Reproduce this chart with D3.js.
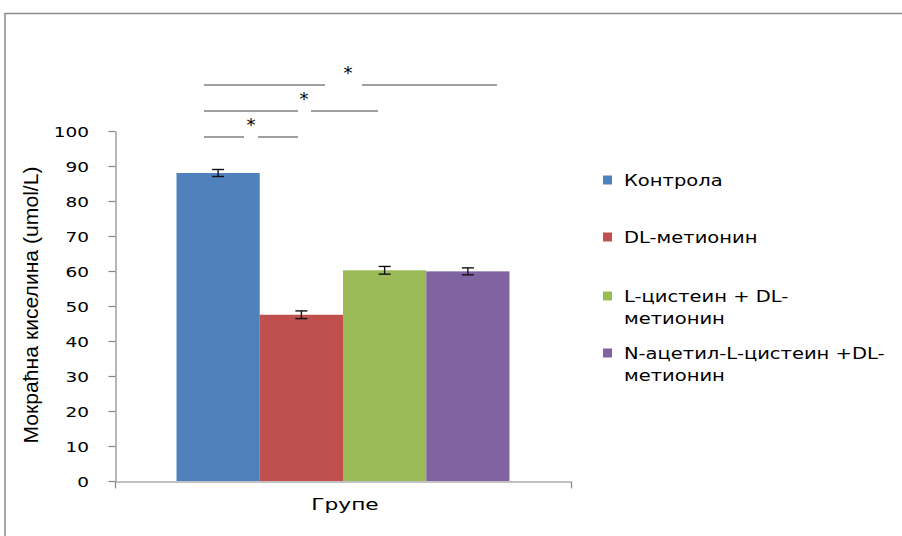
<!DOCTYPE html>
<html><head><meta charset="utf-8">
<script src="https://cdn.jsdelivr.net/npm/d3@7"></script>
<style>html,body{margin:0;background:#fff;overflow:hidden}svg{display:block}</style></head>
<body><svg id="c" width="902" height="536"></svg>
<script>
// ---- data ----
const categories = ["Групе"];
const series = ["Контрола", "DL-метионин", "L-цистеин + DL-метионин", "N-ацетил-L-цистеин +DL-метионин"];
const legendLines = [["Контрола"], ["DL-метионин"], ["L-цистеин + DL-", "метионин"], ["N-ацетил-L-цистеин +DL-", "метионин"]];
const values = [88.0, 47.5, 60.2, 59.9];
const errors = [1.0, 1.1, 1.1, 1.0];
const colors = ["#4F81BD", "#C0504D", "#9BBB59", "#8064A2"];
const yTicks = [0, 10, 20, 30, 40, 50, 60, 70, 80, 90, 100];
const yLabel = "Мокраћна киселина (umol/L)";
const sigMark = "*";

// ---- layout ----
const svg = d3.select("#c");
const plot = {left: 115, right: 571, top: 131, bottom: 481};
const font = "'DejaVu Sans', Verdana, sans-serif";

svg.append("rect").attr("x", 5).attr("y", 13.5).attr("width", 1000).attr("height", 700)
  .attr("fill", "none").attr("stroke", "#8a8a8a").attr("stroke-width", 1.5);

const y = d3.scaleLinear().domain([0, 100]).range([plot.bottom, plot.top]);
const x0 = d3.scaleBand().domain(categories).range([plot.left, plot.right]).paddingInner(0).paddingOuter(0.1847);
const x1 = d3.scaleBand().domain(series).range([0, x0.bandwidth()]).padding(0);

// bars
const g = svg.append("g");
categories.forEach(cat => {
  const gg = g.append("g").attr("transform", `translate(${x0(cat)},0)`);
  gg.selectAll("rect").data(series).join("rect")
    .attr("x", d => x1(d)).attr("width", x1.bandwidth())
    .attr("y", (d, i) => y(values[i])).attr("height", (d, i) => y(0) - y(values[i]))
    .attr("fill", (d, i) => colors[i]);
  // error bars
  const eb = gg.selectAll("g.eb").data(series).join("g").attr("class", "eb")
    .attr("stroke", "#111").attr("stroke-width", 1.4);
  eb.append("line").attr("x1", d => x1(d) + x1.bandwidth() / 2).attr("x2", d => x1(d) + x1.bandwidth() / 2)
    .attr("y1", (d, i) => y(values[i] - errors[i])).attr("y2", (d, i) => y(values[i] + errors[i]));
  eb.append("line").attr("x1", d => x1(d) + x1.bandwidth() / 2 - 6).attr("x2", d => x1(d) + x1.bandwidth() / 2 + 6)
    .attr("y1", (d, i) => y(values[i] + errors[i])).attr("y2", (d, i) => y(values[i] + errors[i]));
  eb.append("line").attr("x1", d => x1(d) + x1.bandwidth() / 2 - 6).attr("x2", d => x1(d) + x1.bandwidth() / 2 + 6)
    .attr("y1", (d, i) => y(values[i] - errors[i])).attr("y2", (d, i) => y(values[i] - errors[i]));
});

// y axis
const yAxis = svg.append("g").attr("transform", `translate(${plot.left + 0.5},0)`)
  .call(d3.axisLeft(y).tickValues(yTicks).tickSize(7).tickSizeOuter(0));
yAxis.select(".domain").attr("stroke", "#868686").attr("stroke-width", 1.2);
yAxis.selectAll(".tick line").attr("stroke", "#868686").attr("stroke-width", 1.2);
yAxis.selectAll(".tick text").attr("x", 0).attr("dy", "0.36em")
  .attr("transform", "translate(-26.5,0) scale(1.32,1)")
  .attr("font-family", font).attr("font-size", 14).attr("fill", "#000");

// x axis
const xAxis = svg.append("g").attr("transform", `translate(0,${plot.bottom + 0.5})`)
  .call(d3.axisBottom(x0).tickSize(0).tickSizeOuter(7));
xAxis.select(".domain").attr("stroke", "#868686").attr("stroke-width", 1.2);
xAxis.selectAll(".tick text").attr("y", 0).attr("dy", 0)
  .attr("transform", "translate(2,28.5) scale(1.45,1)")
  .attr("font-family", font).attr("font-size", 15).attr("fill", "#000");

// y label
svg.append("text").attr("transform", "translate(38,305) rotate(-90)")
  .attr("text-anchor", "middle").attr("font-family", "'Liberation Sans', Arial, sans-serif")
  .attr("font-size", 21).attr("textLength", 277).attr("lengthAdjust", "spacingAndGlyphs")
  .attr("fill", "#000").text(yLabel);

// legend
const legY = [180, 237, 296, 353];
const leg = svg.append("g");
legendLines.forEach((lines, i) => {
  leg.append("rect").attr("x", 603).attr("y", legY[i] - 4.5).attr("width", 9).attr("height", 9).attr("fill", colors[i]);
  lines.forEach((t, j) => {
    leg.append("text").attr("transform", `translate(624,${legY[i] + 6 + j * 22}) scale(1.22,1)`)
      .attr("font-family", font).attr("font-size", 16).attr("fill", "#000").text(t);
  });
});

// significance annotations
const sig = [
  {y: 85, a: [204, 325], b: [362, 497], s: 348},
  {y: 111, a: [204, 298], b: [311, 378], s: 304},
  {y: 137, a: [204, 244], b: [258, 298], s: 251}
];
const sg = svg.append("g");
sig.forEach(r => {
  [r.a, r.b].forEach(seg => sg.append("line").attr("x1", seg[0]).attr("x2", seg[1]).attr("y1", r.y).attr("y2", r.y)
    .attr("stroke", "#7f7f7f").attr("stroke-width", 1.4));
  sg.append("text").attr("x", r.s).attr("y", r.y - 6).attr("text-anchor", "middle")
    .attr("font-family", font).attr("font-size", 18).attr("fill", "#000").text(sigMark);
});
</script>
</body></html>
